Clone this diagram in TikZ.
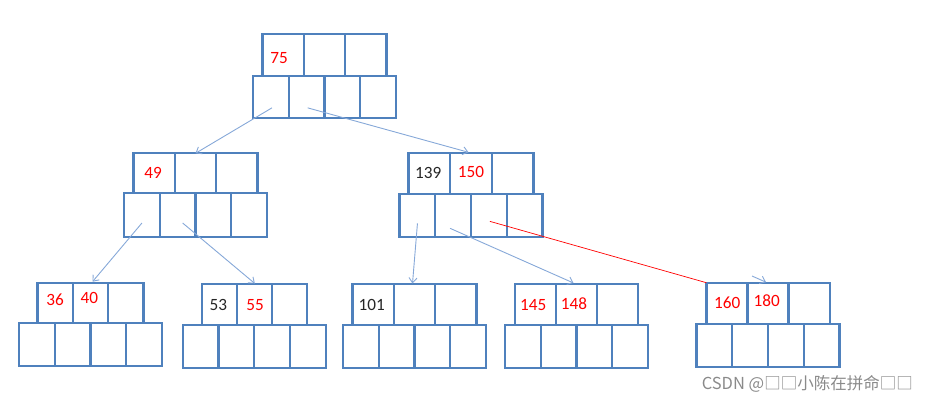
\documentclass[tikz,border=0pt]{standalone}
\usepackage{fontspec}
\setmainfont{Carlito}
\newfontfamily\wmfont{Noto Sans CJK SC}
\usetikzlibrary{arrows.meta,calc}
\definecolor{boxblue}{HTML}{4F81BD}
\definecolor{arrblue}{HTML}{86A8D8}
\definecolor{wmgray}{HTML}{8A8A8A}
\newcommand\bnode[6]{%
  \pgfmathsetmacro\uh{#5-#3}%
  \pgfmathsetmacro\lh{#6-#5}%
  \foreach \i in {1,2,3}{%
    \node[cell, minimum width=#4, minimum height=\uh] (#1-u\i) at ({#2+(\i-2)*#4},{(#3+#5)/2}) {};}%
  \foreach \i in {1,...,4}{%
    \node[cell, minimum width=35.7, minimum height=\lh] (#1-l\i) at ({#2+(\i-2.5)*35.7},{(#5+#6)/2}) {};}%
}
\begin{document}
\begin{tikzpicture}[x=1pt,y=-1pt,
  cell/.style={draw=boxblue, line width=2.3pt, inner sep=0pt, outer sep=0pt, fill=none},
  num/.style={font=\fontsize{17.2}{19}\selectfont, inner sep=0pt},
  rednum/.style={num, text=red},
  blknum/.style={num, text=black!85},
  link/.style={draw=arrblue, line width=0.9pt, -{Straight Barb[length=5pt,width=8pt]}},
  redlink/.style={draw=red, line width=0.7pt}]
\useasboundingbox (0,0) rectangle (928,401);
% nodes
\bnode{R}{324.5}{34.3}{41.4}{76}{117.7}
\bnode{L}{195.5}{153.3}{41.3}{193.3}{236.7}
\bnode{M}{471}{153.3}{41.7}{194}{236.7}
\bnode{BA}{90.5}{282.7}{35.3}{323.3}{366}
\bnode{BB}{254.3}{284}{35}{325}{368.3}
\bnode{BC}{414.5}{284}{41.3}{325}{368.3}
\bnode{BD}{576.5}{284}{40.8}{325}{368}
\bnode{BE}{768}{282.7}{41.1}{324}{366.7}
% keys
\node[rednum] (k75) at (279,58) {75};
\node[rednum] (k49) at (153,173.3) {49};
\node[blknum] (k139) at (428.3,173.3) {139};
\node[rednum] (k150) at (471,171.7) {150};
\node[rednum] (k36) at (55,300) {36};
\node[rednum] (k40) at (89.3,298.3) {40};
\node[blknum] (k53) at (218.3,305) {53};
\node[rednum] (k55) at (255,305) {55};
\node[blknum] (k101) at (371.7,305) {101};
\node[rednum] (k145) at (533.3,305) {145};
\node[rednum] (k148) at (574,303.3) {148};
\node[rednum] (k160) at (727.3,302.3) {160};
\node[rednum] (k180) at (766.7,301) {180};
% connectors
\draw[link] ($(R-l1.center)+(1,11)$) -- (L-u2.north);
\draw[link] ($(R-l2.center)+(1,11)$) -- ($(M-u2.north)+(-2.5,-1)$);
\draw[link] ($(L-l1.center)+(0,8)$) -- ($(BA-u2.north)+(2,-1)$);
\draw[link] ($(L-l2.center)+(5,8)$) -- ($(BB-u2.north)+(0.5,-0.5)$);
\draw[link] ($(M-l1.center)+(0,8)$) -- ($(BC-u2.north)+(-2,-0.5)$);
\draw[link] ($(M-l2.center)+(-3,13)$) -- ($(BD-u2.north)+(-3,-1)$);
\coordinate (stub) at (752,276);
\draw[link] (stub) -- ($(BE-u2.north)+(-2,-0.5)$);
\draw[redlink] ($(M-l3.center)+(1,6)$) -- (BE-u1.north west);
% watermark
\node[anchor=base east, inner sep=0pt, text=wmgray, font=\wmfont\fontsize{16.5}{18}\selectfont] (wm) at (913,389) {CSDN @□□小陈在拼命□□};
\end{tikzpicture}
\end{document}
